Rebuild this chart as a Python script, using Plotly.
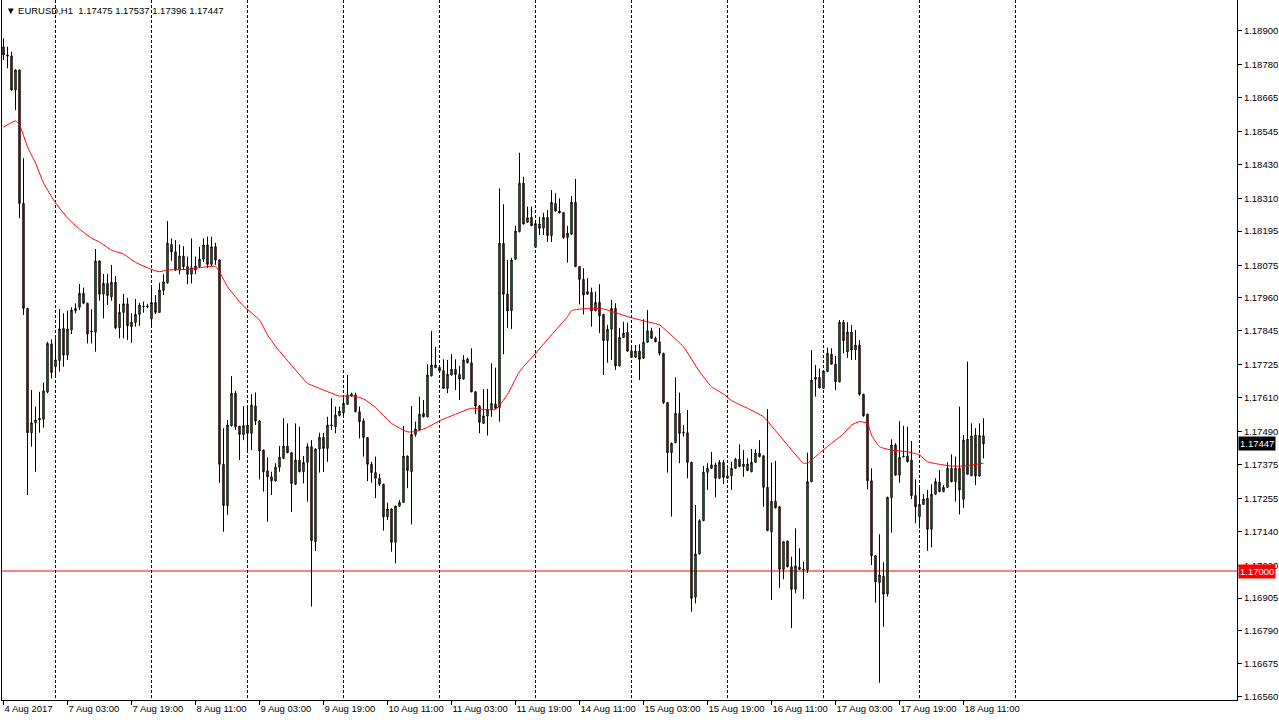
import pandas as pd
import plotly.graph_objects as go

# ---------------- data (EURUSD H1) ----------------
SYMBOL = "EURUSD,H1"
FIRST_BAR = "2017-08-04 11:00"

OPEN = [1.18842,1.18814,1.18810,1.18691,1.18761,1.18292,1.17923,1.17486,1.17521,1.17531,
1.17533,1.17629,1.17798,1.17718,1.17740,1.17853,1.17759,1.17847,1.17915,1.17927,
1.17976,1.17941,1.17844,1.17839,1.18090,1.17973,1.18011,1.17964,1.18015,1.17855,
1.17909,1.17939,1.17859,1.17874,1.17902,1.17931,1.17929,1.17886,1.17944,1.17909,
1.17986,1.18013,1.18148,1.18122,1.18058,1.18107,1.18070,1.18043,1.18058,1.18070,
1.18096,1.18146,1.18078,1.18140,1.18093,1.17375,1.17230,1.17511,1.17625,1.17509,
1.17480,1.17513,1.17484,1.17580,1.17528,1.17425,1.17352,1.17331,1.17317,1.17365,
1.17396,1.17439,1.17416,1.17305,1.17390,1.17349,1.17382,1.17437,1.17103,1.17429,
1.17470,1.17431,1.17511,1.17507,1.17546,1.17556,1.17586,1.17615,1.17619,1.17560,
1.17528,1.17469,1.17375,1.17346,1.17326,1.17305,1.17191,1.17218,1.17101,1.17228,
1.17241,1.17404,1.17349,1.17480,1.17496,1.17554,1.17542,1.17686,1.17715,1.17716,
1.17704,1.17642,1.17689,1.17709,1.17691,1.17675,1.17745,1.17732,1.17630,1.17580,
1.17519,1.17545,1.17568,1.17587,1.17575,1.18152,1.17974,1.17915,1.18096,1.18193,
1.18363,1.18226,1.18243,1.18138,1.18220,1.18205,1.18243,1.18179,1.18292,1.18265,
1.18260,1.18172,1.18184,1.18296,1.18070,1.18025,1.17973,1.17980,1.17915,1.17944,
1.17902,1.17810,1.17850,1.17923,1.17721,1.17821,1.17839,1.17774,1.17751,1.17773,
1.17748,1.17804,1.17844,1.17818,1.17806,1.17765,1.17592,1.17416,1.17451,1.17554,
1.17488,1.17486,1.17382,1.16908,1.17060,1.17177,1.17347,1.17361,1.17373,1.17326,
1.17382,1.17326,1.17335,1.17361,1.17393,1.17367,1.17376,1.17349,1.17382,1.17414,
1.17405,1.17294,1.17138,1.17245,1.17226,1.17006,1.17105,1.17015,1.16936,1.17013,
1.17006,1.17004,1.17314,1.17674,1.17681,1.17642,1.17701,1.17762,1.17727,1.17665,
1.17874,1.17770,1.17840,1.17777,1.17794,1.17621,1.17551,1.17317,1.17054,1.16959,
1.16982,1.16919,1.17258,1.17443,1.17337,1.17404,1.17404,1.17390,1.17265,1.17191,
1.17234,1.17256,1.17147,1.17270,1.17312,1.17279,1.17294,1.17361,1.17314,1.17361,
1.17252,1.17463,1.17335,1.17478,1.17334,1.17475]

HIGH = [1.18872,1.18843,1.18825,1.18763,1.18763,1.18451,1.17925,1.17636,1.17578,1.17630,
1.17662,1.17806,1.17814,1.17818,1.17921,1.17906,1.17915,1.17927,1.17941,1.18009,
1.17996,1.17943,1.17920,1.18132,1.18092,1.18044,1.18044,1.18076,1.18037,1.17939,
1.17974,1.17960,1.17906,1.17956,1.17943,1.17947,1.17939,1.18002,1.17970,1.18013,
1.18043,1.18230,1.18169,1.18163,1.18148,1.18142,1.18105,1.18169,1.18105,1.18140,
1.18169,1.18175,1.18175,1.18154,1.18095,1.17502,1.17531,1.17685,1.17633,1.17510,
1.17580,1.17580,1.17622,1.17628,1.17530,1.17427,1.17400,1.17349,1.17379,1.17439,
1.17537,1.17519,1.17418,1.17519,1.17507,1.17404,1.17449,1.17460,1.17431,1.17486,
1.17486,1.17542,1.17607,1.17578,1.17578,1.17613,1.17689,1.17627,1.17627,1.17578,
1.17537,1.17471,1.17384,1.17402,1.17341,1.17307,1.17240,1.17220,1.17230,1.17250,
1.17510,1.17406,1.17580,1.17525,1.17613,1.17601,1.17727,1.17844,1.17788,1.17721,
1.17744,1.17742,1.17762,1.17744,1.17721,1.17759,1.17750,1.17783,1.17632,1.17583,
1.17639,1.17640,1.17730,1.17715,1.18345,1.18289,1.18093,1.18101,1.18214,1.18470,
1.18386,1.18281,1.18281,1.18234,1.18245,1.18259,1.18269,1.18339,1.18328,1.18310,
1.18262,1.18213,1.18318,1.18378,1.18072,1.18064,1.18029,1.17996,1.17982,1.18008,
1.17904,1.17865,1.17953,1.17941,1.17854,1.17876,1.17873,1.17794,1.17794,1.17797,
1.17885,1.17917,1.17855,1.17824,1.17855,1.17767,1.17594,1.17451,1.17681,1.17627,
1.17513,1.17566,1.17384,1.17232,1.17182,1.17369,1.17379,1.17419,1.17381,1.17390,
1.17390,1.17361,1.17384,1.17398,1.17445,1.17425,1.17396,1.17429,1.17428,1.17460,
1.17407,1.17569,1.17381,1.17387,1.17228,1.17105,1.17107,1.17050,1.17150,1.17080,
1.17033,1.17416,1.17777,1.17724,1.17712,1.17705,1.17785,1.17783,1.17756,1.17882,
1.17882,1.17875,1.17865,1.17847,1.17812,1.17623,1.17553,1.17361,1.17056,1.17129,
1.17031,1.17261,1.17463,1.17449,1.17527,1.17510,1.17507,1.17457,1.17322,1.17302,
1.17270,1.17285,1.17305,1.17326,1.17355,1.17302,1.17382,1.17410,1.17402,1.17578,
1.17478,1.17736,1.17519,1.17502,1.17519,1.17537]

LOW = [1.18796,1.18767,1.18688,1.18620,1.18240,1.17900,1.17267,1.17437,1.17349,1.17486,
1.17504,1.17625,1.17677,1.17683,1.17701,1.17718,1.17742,1.17833,1.17906,1.17917,
1.17938,1.17800,1.17800,1.17771,1.17950,1.17888,1.17935,1.17950,1.17850,1.17818,
1.17818,1.17812,1.17802,1.17859,1.17862,1.17908,1.17924,1.17862,1.17903,1.17907,
1.17970,1.18010,1.18090,1.18055,1.18043,1.18058,1.18008,1.18011,1.18043,1.18065,
1.18086,1.18065,1.18072,1.18076,1.17310,1.17138,1.17197,1.17508,1.17496,1.17390,
1.17460,1.17425,1.17425,1.17513,1.17322,1.17279,1.17173,1.17267,1.17314,1.17349,
1.17394,1.17414,1.17208,1.17302,1.17347,1.17308,1.17244,1.16875,1.17070,1.17346,
1.17348,1.17384,1.17496,1.17484,1.17544,1.17548,1.17584,1.17613,1.17558,1.17466,
1.17402,1.17316,1.17310,1.17256,1.17299,1.17142,1.17179,1.17068,1.17027,1.17226,
1.17239,1.17291,1.17164,1.17472,1.17494,1.17540,1.17540,1.17684,1.17713,1.17700,
1.17640,1.17625,1.17687,1.17636,1.17601,1.17673,1.17730,1.17628,1.17552,1.17484,
1.17517,1.17476,1.17542,1.17570,1.17525,1.17762,1.17855,1.17851,1.18094,1.18190,
1.18218,1.18224,1.18212,1.18136,1.18181,1.18181,1.18157,1.18157,1.18263,1.18257,
1.18167,1.18084,1.18182,1.18068,1.17937,1.17902,1.17971,1.17859,1.17913,1.17836,
1.17689,1.17732,1.17742,1.17707,1.17719,1.17819,1.17771,1.17749,1.17749,1.17671,
1.17746,1.17802,1.17816,1.17804,1.17757,1.17587,1.17346,1.17191,1.17449,1.17379,
1.17472,1.17326,1.16857,1.16886,1.17058,1.17175,1.17285,1.17359,1.17259,1.17324,
1.17306,1.17324,1.17285,1.17359,1.17365,1.17331,1.17351,1.17347,1.17380,1.17400,
1.17226,1.17140,1.16898,1.17220,1.16941,1.16971,1.17013,1.16799,1.16922,1.17004,
1.16901,1.16993,1.17312,1.17613,1.17642,1.17640,1.17699,1.17725,1.17636,1.17663,
1.17765,1.17749,1.17742,1.17742,1.17616,1.17542,1.17287,1.17021,1.16889,1.16607,
1.16804,1.16910,1.17135,1.17335,1.17310,1.17399,1.17382,1.17253,1.17168,1.17150,
1.17232,1.17071,1.17083,1.17268,1.17277,1.17277,1.17292,1.17312,1.17244,1.17199,
1.17222,1.17338,1.17333,1.17302,1.17332,1.17396]

CLOSE = [1.18814,1.18810,1.18691,1.18761,1.18292,1.17923,1.17486,1.17521,1.17531,1.17537,
1.17633,1.17800,1.17698,1.17742,1.17851,1.17759,1.17851,1.17917,1.17923,1.17976,
1.17941,1.17833,1.17841,1.18090,1.17973,1.18011,1.17968,1.18015,1.17855,1.17909,
1.17939,1.17862,1.17875,1.17902,1.17935,1.17929,1.17931,1.17944,1.17909,1.17988,
1.18016,1.18152,1.18122,1.18058,1.18107,1.18070,1.18043,1.18066,1.18072,1.18096,
1.18146,1.18078,1.18140,1.18093,1.17375,1.17230,1.17513,1.17625,1.17507,1.17480,
1.17511,1.17484,1.17583,1.17528,1.17422,1.17349,1.17331,1.17317,1.17365,1.17400,
1.17439,1.17416,1.17308,1.17390,1.17349,1.17382,1.17437,1.17107,1.17429,1.17470,
1.17431,1.17513,1.17513,1.17548,1.17562,1.17589,1.17619,1.17622,1.17560,1.17525,
1.17469,1.17375,1.17346,1.17326,1.17305,1.17191,1.17218,1.17101,1.17228,1.17241,
1.17404,1.17353,1.17480,1.17499,1.17551,1.17542,1.17689,1.17724,1.17724,1.17704,
1.17642,1.17692,1.17709,1.17691,1.17675,1.17742,1.17732,1.17630,1.17580,1.17523,
1.17545,1.17568,1.17589,1.17572,1.18152,1.17973,1.17914,1.18093,1.18195,1.18363,
1.18220,1.18242,1.18214,1.18221,1.18205,1.18243,1.18179,1.18296,1.18265,1.18259,
1.18172,1.18187,1.18296,1.18070,1.18025,1.17970,1.17982,1.17914,1.17944,1.17897,
1.17810,1.17850,1.17923,1.17721,1.17821,1.17836,1.17773,1.17751,1.17773,1.17744,
1.17804,1.17844,1.17818,1.17806,1.17765,1.17592,1.17416,1.17449,1.17554,1.17484,
1.17486,1.17382,1.16904,1.17060,1.17177,1.17347,1.17361,1.17373,1.17326,1.17382,
1.17329,1.17334,1.17361,1.17393,1.17367,1.17376,1.17353,1.17382,1.17414,1.17402,
1.17294,1.17142,1.17245,1.17222,1.17006,1.17103,1.17015,1.16936,1.17018,1.17006,
1.17004,1.17314,1.17671,1.17681,1.17644,1.17703,1.17765,1.17727,1.17665,1.17874,
1.17810,1.17840,1.17777,1.17794,1.17621,1.17546,1.17317,1.17054,1.16962,1.16986,
1.16919,1.17259,1.17443,1.17337,1.17400,1.17402,1.17384,1.17265,1.17226,1.17234,
1.17253,1.17147,1.17270,1.17314,1.17279,1.17294,1.17361,1.17314,1.17361,1.17285,
1.17460,1.17340,1.17475,1.17334,1.17476,1.17447]

# moving average read at sample bars (bar number, value)
MA_BARS = [0,3,4,6,8,10,13,16,19,22,24,27,30,33,37,39,41,46,50,53,54,56,58,60,64,66,68,73,76,79,
82,84,87,90,93,97,101,103,106,109,113,117,120,123,126,129,133,137,141,142,146,150,153,157,
161,164,166,170,174,177,180,182,186,190,192,196,200,201,204,207,210,212,214,216,217,219,
222,226,229,231,234,237,240,245]
MA_VALUES = [1.18560,1.18582,1.18568,1.18491,1.18434,1.18364,1.18294,1.18241,1.18202,1.18170,
1.18156,1.18128,1.18114,1.18085,1.18060,1.18052,1.18058,1.18060,1.18068,1.18070,1.18052,
1.17999,1.17964,1.17931,1.17882,1.17830,1.17790,1.17707,1.17660,1.17642,1.17625,1.17615,
1.17616,1.17605,1.17575,1.17519,1.17489,1.17490,1.17505,1.17528,1.17551,1.17572,1.17568,
1.17568,1.17621,1.17701,1.17765,1.17830,1.17894,1.17915,1.17923,1.17921,1.17908,1.17890,
1.17876,1.17865,1.17841,1.17788,1.17701,1.17648,1.17622,1.17599,1.17572,1.17542,1.17510,
1.17443,1.17379,1.17379,1.17414,1.17449,1.17482,1.17513,1.17525,1.17519,1.17478,1.17437,
1.17425,1.17419,1.17408,1.17384,1.17375,1.17369,1.17369,1.17379]

LEVEL = 1.17000

Y_TICKS = ["1.18900","1.18780","1.18665","1.18545","1.18430","1.18310","1.18195","1.18075",
           "1.17960","1.17845","1.17725","1.17610","1.17490","1.17375","1.17255","1.17140",
           "1.17020","1.16905","1.16790","1.16675","1.16560"]
Y_RANGE = [1.165466, 1.190071]

X_LABEL_TIMES = ["2017-08-04 11:00","2017-08-07 03:00","2017-08-07 19:00","2017-08-08 11:00",
                 "2017-08-09 03:00","2017-08-09 19:00","2017-08-10 11:00","2017-08-11 03:00",
                 "2017-08-11 19:00","2017-08-14 11:00","2017-08-15 03:00","2017-08-15 19:00",
                 "2017-08-16 11:00","2017-08-17 03:00","2017-08-17 19:00","2017-08-18 11:00"]
X_LABELS = ["4 Aug 2017","7 Aug 03:00","7 Aug 19:00","8 Aug 11:00","9 Aug 03:00","9 Aug 19:00",
            "10 Aug 11:00","11 Aug 03:00","11 Aug 19:00","14 Aug 11:00","15 Aug 03:00",
            "15 Aug 19:00","16 Aug 11:00","17 Aug 03:00","17 Aug 19:00","18 Aug 11:00"]

# ---------------- bar time axis (trading hours, no weekends) ----------------
n = len(CLOSE)
times = []
t = pd.Timestamp(FIRST_BAR)
while len(times) < n + 24:
    if t.weekday() < 5:
        times.append(t)
    t += pd.Timedelta(hours=1)
time_index = {tt: i for i, tt in enumerate(times)}
bars = list(range(n))
label_pos = [time_index[pd.Timestamp(s)] for s in X_LABEL_TIMES]
day_pos = [i for i, tt in enumerate(times) if tt.hour == 0]

FONT = dict(family="Liberation Sans, Arial, sans-serif", size=9.5, color="black")

fig = go.Figure()
fig.add_trace(go.Candlestick(
    x=bars, open=OPEN, high=HIGH, low=LOW, close=CLOSE,
    increasing=dict(line=dict(color="black", width=1), fillcolor="#00c800"),
    decreasing=dict(line=dict(color="black", width=1), fillcolor="#ff0000"),
    whiskerwidth=0, showlegend=False, hoverinfo="skip"))
fig.add_trace(go.Scatter(
    x=MA_BARS, y=MA_VALUES, mode="lines",
    line=dict(color="#ff0000", width=1, shape="spline", smoothing=0.5),
    showlegend=False, hoverinfo="skip"))

fig.add_shape(type="line", xref="paper", x0=0, x1=1, yref="y", y0=LEVEL, y1=LEVEL,
              line=dict(color="#ff0000", width=1), layer="below")

fig.update_layout(
    width=1279, height=720,
    margin=dict(l=2, r=42, t=0, b=20),
    paper_bgcolor="white", plot_bgcolor="white",
    font=FONT, boxgap=0.5,
    xaxis=dict(
        range=[-0.375, 308.375], rangeslider=dict(visible=False),
        tickmode="array", tickvals=label_pos, ticktext=X_LABELS, tickangle=0,
        ticks="outside", ticklen=4, tickcolor="black", tickwidth=1,
        ticklabelposition="outside right", tickfont=FONT,
        showline=True, linecolor="black", linewidth=1,
        showgrid=False, zeroline=False,
        minor=dict(tickmode="array", tickvals=day_pos, showgrid=True,
                   gridcolor="black", gridwidth=1, griddash="3px,2px", ticks=""),
    ),
    yaxis=dict(
        side="right", range=Y_RANGE,
        tickmode="array", tickvals=[float(v) for v in Y_TICKS], ticktext=Y_TICKS,
        ticks="outside", ticklen=4, tickcolor="black", tickfont=FONT,
        showline=True, linecolor="black", linewidth=1, mirror=True,
        showgrid=False, zeroline=False,
    ),
    annotations=[
        dict(xref="paper", yref="paper", x=0, y=1, xanchor="left", yanchor="top",
             xshift=2, yshift=-3, showarrow=False, font=FONT,
             text="\u25bc " + SYMBOL + "\u00a0\u00a0" + " ".join(
                 f"{v:.5f}" for v in (OPEN[-1], HIGH[-1], LOW[-1], CLOSE[-1]))),
        dict(xref="paper", yref="y", x=1, y=CLOSE[-1], xanchor="left", yanchor="middle",
             xshift=1, showarrow=False, bgcolor="black", borderpad=1,
             font=dict(family=FONT["family"], size=9.5, color="white"),
             text=f"{CLOSE[-1]:.5f}"),
        dict(xref="paper", yref="y", x=1, y=LEVEL, xanchor="left", yanchor="middle",
             xshift=1, showarrow=False, bgcolor="#ff0000", borderpad=1,
             font=dict(family=FONT["family"], size=9.5, color="white"),
             text=f"{LEVEL:.5f}"),
    ],
)

fig.write_html("out.html", config={"displayModeBar": False},
               post_script="document.body.style.margin='0';document.body.style.overflow='hidden';")
